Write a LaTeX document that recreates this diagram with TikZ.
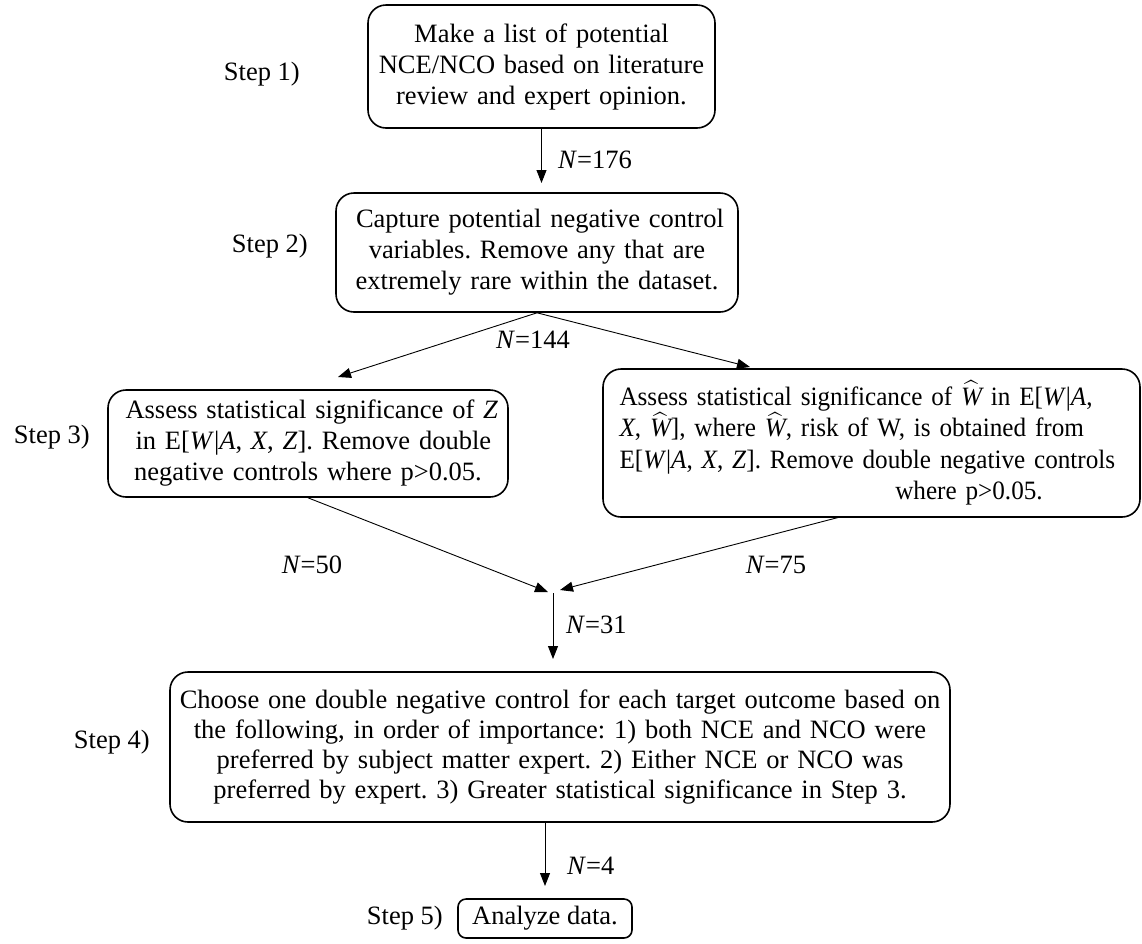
\documentclass[tikz,border=0pt]{standalone}
\usepackage{amsmath}
\usepackage{fontspec}
\setmainfont{Liberation Serif}
\newfontfamily\condfont{Liberation Serif}[FakeStretch=0.95]
\usetikzlibrary{arrows.meta}
\tikzset{
  box/.style={draw, line width=1.6pt, rounded corners=18pt, align=center, inner sep=0pt},
  arr/.style={-{Triangle[length=13pt,width=10pt]}, line width=0.9pt},
  steplab/.style={anchor=east, inner sep=0pt},
  nlab/.style={inner sep=0pt}
}
\newcommand{\jl}[2]{\makebox[#1][s]{#2}}
\newcommand{\It}[1]{\textit{#1}}
\newcommand{\Wh}{$\widehat{\textit{W}}$}
\begin{document}
\frenchspacing
\begin{tikzpicture}[x=1pt,y=-1pt,font=\fontsize{26.5pt}{31pt}\selectfont\frenchspacing]
\useasboundingbox (0,0) rectangle (1142,943);
% boxes
\node[box, minimum width=347pt, minimum height=123pt, text width=330pt] (b1) at (541.5,66.5)
  {Make a list of potential\\NCE/NCO based on literature\\review and expert opinion.};
\node[box, minimum width=402pt, minimum height=119pt, text width=370pt] (b2) at (537,252.5)
  {\jl{362pt}{Capture potential negative control}\\variables. Remove any that are\\extremely rare within the dataset.};
\node[box, minimum width=400pt, minimum height=107pt, text width=380pt] (b3) at (308,443.5)
  {\jl{365pt}{Assess statistical significance of \It{Z}}\\\jl{345pt}{in E[\It{W}|\It{A}, \It{X}, \It{Z}]. Remove double}\\negative controls where p>0.05.};
\node[box, minimum width=537pt, minimum height=148pt, text width=510pt, font=\condfont\fontsize{26.5pt}{31.5pt}\selectfont\frenchspacing] (br) at (871.5,443)
  {\jl{504pt}{Assess statistical significance of \Wh{} in E[\It{W}|\It{A},}\\
   \jl{504pt}{\It{X}, \Wh], where \Wh, risk of W, is obtained from}\\
   \jl{504pt}{E[\It{W}|\It{A}, \It{X}, \It{Z}]. Remove double negative controls}\\
   \hspace*{195pt}where p>0.05.};
\node[box, minimum width=780pt, minimum height=150pt, text width=770pt, font=\fontsize{26.5pt}{30pt}\selectfont\frenchspacing] (b4) at (560,747)
  {Choose one double negative control for each target outcome based on\\
   the following, in order of importance: 1) both NCE and NCO were\\
   preferred by subject matter expert. 2) Either NCE or NCO was\\
   preferred by expert. 3) Greater statistical significance in Step 3.};
\node[box, rounded corners=8pt, minimum width=174pt, minimum height=39pt] (b5) at (545,918.5) {Analyze data.};
% step labels
\node[steplab] (s1) at (300,74) {Step 1)};
\node[steplab] (s2) at (308,246) {Step 2)};
\node[steplab] (s3) at (90,437) {Step 3)};
\node[steplab] (s4) at (150,742) {Step 4)};
\node[steplab] (s5) at (443,918) {Step 5)};
% free ends
\coordinate (t1) at (541.5,183);
\coordinate (tl) at (338,377);
\coordinate (tr) at (750,367);
\coordinate (rs) at (840,517);
\coordinate (ml) at (548,592);
\coordinate (mr) at (560,590);
\coordinate (m) at (553,593);
\coordinate (t4) at (553,659);
\coordinate (t5) at (545,886);
% connectors
\draw[arr] (b1.south) -- (t1);
\draw[arr] (b2.south) -- (tl);
\draw[arr] (b2.south) -- (tr);
\draw[arr] (b3.south) -- (ml);
\draw[arr] (rs) -- (mr);
\draw[arr] (m) -- (t4);
\draw[arr] (b4.south -| t5) -- (t5);
% N labels
\node[nlab, anchor=west] (n176) at (558,160) {\It{N}=176};
\node[nlab] (n144) at (533,340) {\It{N}=144};
\node[nlab] (n50) at (312,565) {\It{N}=50};
\node[nlab] (n75) at (776,565) {\It{N}=75};
\node[nlab, anchor=west] (n31) at (566,625) {\It{N}=31};
\node[nlab, anchor=west] (n4) at (567,866) {\It{N}=4};
\end{tikzpicture}
\end{document}
